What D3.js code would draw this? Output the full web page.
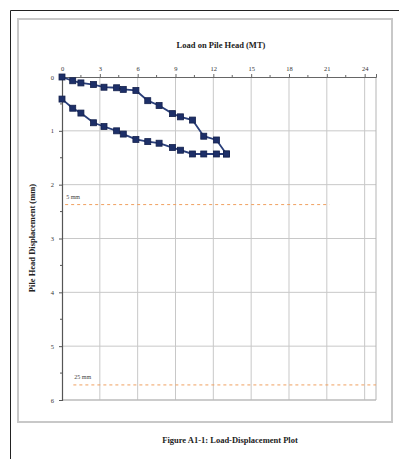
<!DOCTYPE html>
<html>
<head>
<meta charset="utf-8">
<script src="https://cdn.jsdelivr.net/npm/d3@7"></script>
<style>
  html, body { margin: 0; padding: 0; background: #fff; }
  svg { display: block; }
</style>
</head>
<body>
<svg id="chart" width="399" height="459"></svg>
<script>
// Load steps (MT) shared by both branches of the loop
const loads = [0, 0.85, 1.5, 2.5, 3.33, 4.33, 4.86, 5.86, 6.8, 7.7, 8.76, 9.4, 10.35, 11.24, 12.25, 13.04];
// Upper branch: displacement (mm)
const upperDisp = [0, 0.07, 0.11, 0.14, 0.19, 0.2, 0.23, 0.25, 0.44, 0.53, 0.68, 0.74, 0.8, 1.1, 1.17, 1.43];
// Lower branch: displacement (mm)
const lowerDisp = [0.41, 0.58, 0.67, 0.85, 0.92, 1.0, 1.06, 1.16, 1.2, 1.23, 1.31, 1.36, 1.43, 1.43, 1.43, 1.43];

const xTicks = [0, 3, 6, 9, 12, 15, 18, 21, 24];
const yTicks = [0, 1, 2, 3, 4, 5, 6];

// Reference lines: label, displacement, load start, load end
const refLabels = ["5 mm", "25 mm"];
const refValues = [2.37, 5.72];
const refStart = [0.25, 0.9];
const refEnd = [21.2, 24.9];

const svg = d3.select("#chart");
const serif = "'Liberation Serif', 'Times New Roman', serif";

// Page frame
svg.append("line").attr("x1", 10.5).attr("y1", 10.5).attr("x2", 399).attr("y2", 10.5)
  .attr("stroke", "#222").attr("stroke-width", 1);
svg.append("line").attr("x1", 10.5).attr("y1", 10.5).attr("x2", 10.5).attr("y2", 459)
  .attr("stroke", "#222").attr("stroke-width", 1);

// Chart area border
svg.append("rect").attr("x", 18).attr("y", 19).attr("width", 374).attr("height", 403)
  .attr("fill", "#fff").attr("stroke", "#c8c8c8").attr("stroke-width", 2);

const plot = { left: 62, top: 77, right: 376, bottom: 400 };
const x = d3.scaleLinear().domain([0, 24.9]).range([plot.left, plot.right]);
const y = d3.scaleLinear().domain([0, 6]).range([plot.top, plot.bottom]);

// Gridlines
const grid = svg.append("g");
grid.selectAll("line.v").data(xTicks.filter(d => d > 0)).join("line")
  .attr("x1", d => x(d)).attr("x2", d => x(d))
  .attr("y1", plot.top).attr("y2", plot.bottom)
  .attr("stroke", "#c8c8c8").attr("stroke-width", 1);
grid.selectAll("line.h").data(yTicks.filter(d => d > 0)).join("line")
  .attr("x1", plot.left).attr("x2", plot.right)
  .attr("y1", d => y(d)).attr("y2", d => y(d))
  .attr("stroke", "#c8c8c8").attr("stroke-width", 1);
// Right and bottom edges of plot area
svg.append("line").attr("x1", plot.right).attr("x2", plot.right)
  .attr("y1", plot.top).attr("y2", plot.bottom)
  .attr("stroke", "#b5b5b5").attr("stroke-width", 1);
svg.append("line").attr("x1", plot.left).attr("x2", plot.right)
  .attr("y1", plot.bottom).attr("y2", plot.bottom)
  .attr("stroke", "#b5b5b5").attr("stroke-width", 1);

// Reference lines
refValues.forEach((v, i) => {
  svg.append("line")
    .attr("x1", x(refStart[i])).attr("x2", x(refEnd[i]))
    .attr("y1", y(v)).attr("y2", y(v))
    .attr("stroke", "#f0a060").attr("stroke-width", 1)
    .attr("stroke-dasharray", "3,3");
  svg.append("text")
    .attr("x", x(refStart[i]) + 1).attr("y", y(v) - 6)
    .attr("font-family", serif).attr("font-size", 6).attr("fill", "#444")
    .text(refLabels[i]);
});

// Top axis
const xAxis = d3.axisTop(x).tickValues(xTicks).tickSize(3).tickPadding(3).tickFormat(d3.format("d"));
const gx = svg.append("g").attr("transform", `translate(0,${plot.top})`).call(xAxis);
gx.select(".domain").attr("stroke", "#666");
gx.selectAll(".tick line").attr("stroke", "#666");
gx.selectAll("text").attr("font-family", serif).attr("font-size", 6.5).attr("fill", "#333");
// minor x ticks
svg.append("g").selectAll("line").data(xTicks.slice(0, -1).map(d => d + 1.5)).join("line")
  .attr("x1", d => x(d)).attr("x2", d => x(d))
  .attr("y1", plot.top - 2).attr("y2", plot.top)
  .attr("stroke", "#666");

// Left axis
const yAxis = d3.axisLeft(y).tickValues(yTicks).tickSize(3).tickPadding(5).tickFormat(d3.format("d"));
const gy = svg.append("g").attr("transform", `translate(${plot.left},0)`).call(yAxis);
gy.select(".domain").attr("stroke", "#555").attr("stroke-width", 1.2);
gy.selectAll(".tick line").attr("stroke", "#555");
gy.selectAll("text").attr("font-family", serif).attr("font-size", 6.5).attr("fill", "#333");
svg.append("g").selectAll("line").data(yTicks.slice(0, -1).map(d => d + 0.5)).join("line")
  .attr("x1", plot.left - 2).attr("x2", plot.left)
  .attr("y1", d => y(d)).attr("y2", d => y(d))
  .attr("stroke", "#555");

// Axis titles
svg.append("text").attr("x", 221).attr("y", 48).attr("text-anchor", "middle")
  .attr("font-family", serif).attr("font-size", 8.5).attr("font-weight", "bold").attr("fill", "#222")
  .text("Load on Pile Head (MT)");
svg.append("text").attr("transform", "translate(35,238) rotate(-90)").attr("text-anchor", "middle")
  .attr("font-family", serif).attr("font-size", 8.5).attr("font-weight", "bold").attr("fill", "#222")
  .text("Pile Head Displacement (mm)");

// Data series
const navy = "#1d2f68";
const line = d3.line().x(d => x(d[0])).y(d => y(d[1]));
[upperDisp, lowerDisp].forEach(series => {
  const pts = loads.map((l, i) => [l, series[i]]);
  svg.append("path").datum(pts).attr("d", line)
    .attr("fill", "none").attr("stroke", "#2a3f7a").attr("stroke-width", 1.8);
  svg.append("g").selectAll("rect").data(pts).join("rect")
    .attr("x", d => x(d[0]) - 3).attr("y", d => y(d[1]) - 3)
    .attr("width", 6).attr("height", 6)
    .attr("fill", navy).attr("stroke", "#14214d").attr("stroke-width", 0.8);
});

// Caption
svg.append("text").attr("x", 230).attr("y", 443).attr("text-anchor", "middle")
  .attr("font-family", serif).attr("font-size", 8.5).attr("font-weight", "bold").attr("fill", "#222")
  .text("Figure A1-1: Load-Displacement Plot");
</script>
</body>
</html>
